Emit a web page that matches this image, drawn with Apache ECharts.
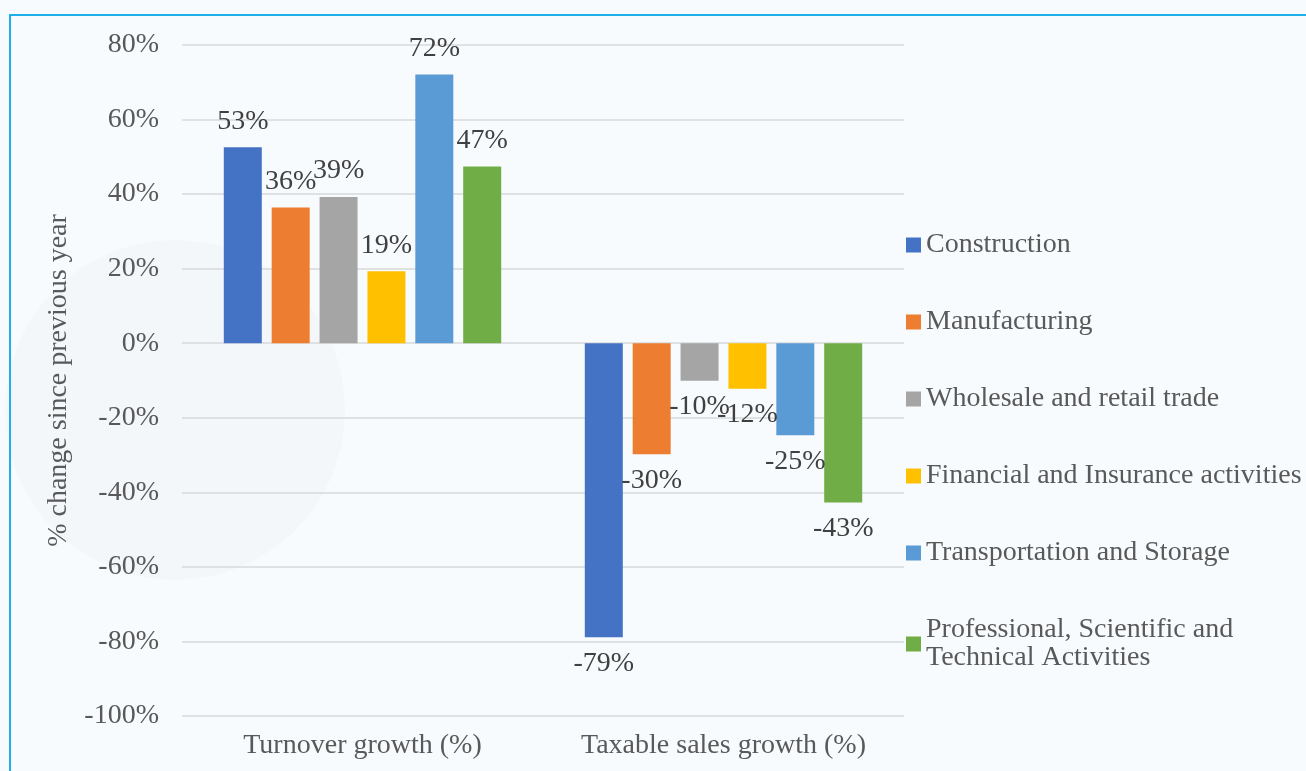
<!DOCTYPE html>
<html>
<head>
<meta charset="utf-8">
<script src="https://cdn.jsdelivr.net/npm/echarts@6/dist/echarts.min.js"></script>
<style>
  html, body { margin: 0; padding: 0; background: #f8fbfd; }
  #chart { width: 1306px; height: 771px; }
</style>
</head>
<body>
<div id="chart"></div>
<script>
// categories on the x axis
var categories = ['Turnover growth (%)', 'Taxable sales growth (%)'];
// one array per sector: [turnover growth, taxable sales growth] in %
var construction = [52.6, -78.9];
var manufacturing = [36.4, -29.8];
var wholesale = [39.2, -10.1];
var financial = [19.3, -12.2];
var transport = [72.1, -24.7];
var professional = [47.4, -42.7];
var seriesNames = [
	'Construction',
	'Manufacturing',
	'Wholesale and retail trade',
	'Financial and Insurance activities',
	'Transportation and Storage',
	'Professional, Scientific and\nTechnical Activities'
];
var seriesValues = [construction, manufacturing, wholesale, financial, transport, professional];
var colors = ['#4472C4', '#ED7D31', '#A5A5A5', '#FFC000', '#5B9BD5', '#70AD47'];
var yTicks = { min: -100, max: 80, step: 20 };

var font = 'Liberation Serif, Times New Roman, serif';
var chart = echarts.init(document.getElementById('chart'));

var series = seriesNames.map(function (name, i) {
	return {
		name: name,
		type: 'bar',
		barWidth: 38,
		barGap: '26%',
		itemStyle: { color: colors[i] },
		data: seriesValues[i].map(function (v) {
			return {
				value: v,
				label: { position: v >= 0 ? 'top' : 'bottom' }
			};
		}),
		label: {
			show: true,
			distance: 12,
			color: '#404040',
			fontFamily: font,
			fontSize: 28,
			formatter: function (p) { return Math.round(p.value) + '%'; }
		}
	};
});

chart.setOption({
	backgroundColor: '#f8fbfd',
	animation: false,
	color: colors,
	graphic: [
		// faint background watermark
		{ type: 'circle', z: -10, shape: { cx: 175, cy: 410, r: 170 }, style: { fill: '#f4f7fa' } },
		{
			type: 'rect',
			shape: { x: 10, y: 15, width: 1400, height: 900 },
			style: { fill: 'none', stroke: '#1fb0ea', lineWidth: 2 }
		}
	],
	grid: { left: 182, right: 402, top: 45, bottom: 55 },
	legend: {
		orient: 'vertical',
		left: 906,
		top: 231,
		padding: 0,
		itemGap: 49,
		itemWidth: 15,
		itemHeight: 15,
		icon: 'rect',
		textStyle: { color: '#595959', fontFamily: font, fontSize: 28, lineHeight: 28 },
		data: seriesNames
	},
	xAxis: {
		type: 'category',
		data: categories,
		axisLine: { show: false, onZero: false },
		axisTick: { show: false },
		axisLabel: { interval: 0, color: '#595959', fontFamily: font, fontSize: 28, margin: 16 }
	},
	yAxis: {
		type: 'value',
		min: yTicks.min,
		max: yTicks.max,
		interval: yTicks.step,
		name: '% change since previous year',
		nameLocation: 'middle',
		nameGap: 109,
		nameTextStyle: { color: '#595959', fontFamily: font, fontSize: 28 },
		axisLabel: { color: '#595959', fontFamily: font, fontSize: 28, margin: 23, formatter: '{value}%' },
		splitLine: { lineStyle: { color: '#d9d9d9', width: 1.5 } }
	},
	series: series
});
</script>
</body>
</html>
